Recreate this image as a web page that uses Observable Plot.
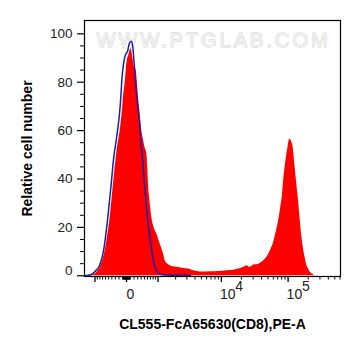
<!DOCTYPE html>
<html><head><meta charset="utf-8">
<script src="https://cdn.jsdelivr.net/npm/d3@7"></script>
<script src="https://cdn.jsdelivr.net/npm/@observablehq/plot@0.6"></script>
<style>html,body{margin:0;padding:0;background:#fff}</style>
</head><body><div id="chart"></div>
<script>
// Histogram bins on the biexponential display scale (channel 0..256)
const redChannel = [0,4,7,10.7,13,15.7,18,20.7,23,25.7,29,32.5,35.7,37.5,39,41,42.3,44.5,46.5,48.3,50,51.7,53,54,55.7,57.3,59,60.5,62.3,63.3,64,65.7,67.3,69.5,72.3,75.7,79,80.7,83,85.7,90,94,99,104,109,116,126,134,142.7,149,156,160,162.7,165,169.3,172.7,176,179.3,182,184.3,186.5,188.7,190.5,192,193.8,195.3,196.5,197.7,199.3,201,203.5,205.3,207,208.7,210.3,212,213.7,215.2,216.7,218,219.3,220.7,222,224,226,228.5,231,256];
const redCount = [0,0.1,0.3,0.7,1.8,3.4,6,10.3,16,24.1,37.9,51.5,60,66.5,73.8,81,87.6,91.5,93.8,90.3,86,84.8,79,73.8,67,60,56,53,50.5,44,37.9,30,24.1,20,17.3,13.1,9,6.2,5,4.1,3.6,3.4,3.0,2.8,2.1,1.6,1.7,1.8,2.1,2.3,3.0,3.6,4.1,3.4,4.5,4.6,5.2,6.2,7.5,9,11,13.1,16,18.6,22,25.5,29,32.4,40,46.2,53,56.5,55.5,53,46.2,39,32.4,25.5,18.6,14,10.3,7.3,4.8,2.8,1.4,0.5,0,0];
const blueChannel = [0,4,7.3,10,12,14,16.5,19,21,23.3,25,26.7,29,31.7,33,35,36.3,37.3,39,40.7,43.3,44.7,46.7,48.3,49.7,51,52.3,54,55.7,56.7,57.3,59,62.5,64,66,67.3,69,70.7,73,75.7,81,91,98,106];
const blueCount = [0,0.2,0.7,1.5,2.5,3.4,6,10.3,16,24.1,31,37.9,48,56,60,66.9,73.8,80.7,87.6,91,93.1,95.9,96.9,94.5,87.6,80.7,73.8,66.9,60,53.1,51.7,43,26,20,14,10.3,6,3.4,1.5,0.7,0.3,0.2,0.3,0];

const yMajorTicks = [0,20,40,60,80,100];
const yMinorTicks = [5,10,15,25,30,35,45,50,55,65,70,75,85,90,95];
const xMajorTicks = [-1000,0,1000,10000,100000];
const xMinorTicks = [-900,-800,-700,-600,-500,-400,-300,-200,-100,-90,-80,-70,-60,-50,-40,-30,-20,-10,
  10,20,30,40,50,60,70,80,90,100,200,300,400,500,600,700,800,900,
  2000,3000,4000,5000,6000,7000,8000,9000,
  20000,30000,40000,50000,60000,70000,80000,90000,
  200000,300000,400000,500000,600000];
const xTickBase = ["0","10","10"];
const xTickExp = ["","4","5"];
const xTickValues = [0,10000,100000];
const xTitle = "CL555-FcA65630(CD8),PE-A";
const yTitle = "Relative cell number";
const watermark = "WWW.PTGLAB.COM";

// biexponential-like display transform: value -> channel
function toChannel(v){ return 42 + 29*Math.asinh(v/760); }

const red = redChannel.map((c,i)=>({ch:c, n:redCount[i]}));
const blue = blueChannel.map((c,i)=>({ch:c, n:blueCount[i]}));
const xLabels = xTickValues.map((v,i)=>({ch:toChannel(v), base:xTickBase[i], exp:xTickExp[i]}));
const inDomain = c => c >= 0 && c <= 256;

const font = "'Liberation Sans', Arial, Helvetica, sans-serif";
const chart = Plot.plot({
  width: 361, height: 356,
  marginLeft: 84, marginRight: 21, marginTop: 20, marginBottom: 80,
  style: {fontFamily: font, background: "#fff", color: "#111"},
  x: {type: "linear", domain: [0,256]},
  y: {domain: [-0.3,105.5]},
  marks: [
    Plot.text([watermark], {frameAnchor: "top", dy: 12, dx: 1, fontSize: 20, fill: "#f3f3f3", stroke: "#cccccc", strokeWidth: 0.9, className: "wm"}),
    Plot.areaY(red, {x: "ch", y: "n", fill: "#ff0000", curve: "monotone-x"}),
    Plot.lineY(blue, {x: "ch", y: "n", stroke: "#1f1fa6", strokeWidth: 1.5, curve: "monotone-x"}),
    Plot.frame({stroke: "#000", strokeWidth: 1.2}),
    Plot.axisY(yMajorTicks, {tickSize: 7, tickFormat: () => "", label: null, stroke: "#000", strokeWidth: 1.2}),
    Plot.axisY(yMinorTicks, {tickSize: 4, tickFormat: () => "", label: null, stroke: "#000", strokeWidth: 1}),
    Plot.text(yMajorTicks.filter(d => d > 0), {y: d => d, text: d => String(d), frameAnchor: "left", textAnchor: "end", dx: -12, fontSize: 13.5, fill: "#222"}),
    Plot.text([0], {y: d => d, text: d => String(d), frameAnchor: "left", textAnchor: "end", dx: -12, dy: -5, fontSize: 13.5, fill: "#222"}),
    Plot.axisX(xMajorTicks.map(toChannel).filter(inDomain), {tickSize: 6, tickFormat: () => "", label: null, stroke: "#000", strokeWidth: 1.3}),
    Plot.axisX(xMinorTicks.map(toChannel).filter(inDomain), {tickSize: 3.5, tickFormat: () => "", label: null, stroke: "#000", strokeWidth: 1}),
    Plot.text(xLabels.filter(d => d.exp === ""), {x: "ch", text: "base", frameAnchor: "bottom", dy: 22, dx: 4, textAnchor: "middle", fontSize: 14, fill: "#222"}),
    Plot.text(xLabels.filter(d => d.exp !== ""), {x: "ch", text: "base", frameAnchor: "bottom", dy: 22, dx: -1.5, textAnchor: "start", fontSize: 14, fill: "#222"}),
    Plot.text(xLabels.filter(d => d.exp !== ""), {x: "ch", text: "exp", frameAnchor: "bottom", dy: 14.5, dx: 13.8, textAnchor: "start", fontSize: 14, fill: "#222"}),
    Plot.text([xTitle], {frameAnchor: "bottom", dy: 52, fontSize: 14, fontWeight: "bold", fill: "#000"}),
    Plot.text([yTitle], {frameAnchor: "left", dx: -57, rotate: -90, textAnchor: "middle", fontSize: 14, fontWeight: "bold", fill: "#000"})
  ]
});
chart.querySelectorAll(".wm text").forEach(t => t.setAttribute("letter-spacing", "3"));
document.getElementById("chart").appendChild(chart);
</script>
</body></html>
